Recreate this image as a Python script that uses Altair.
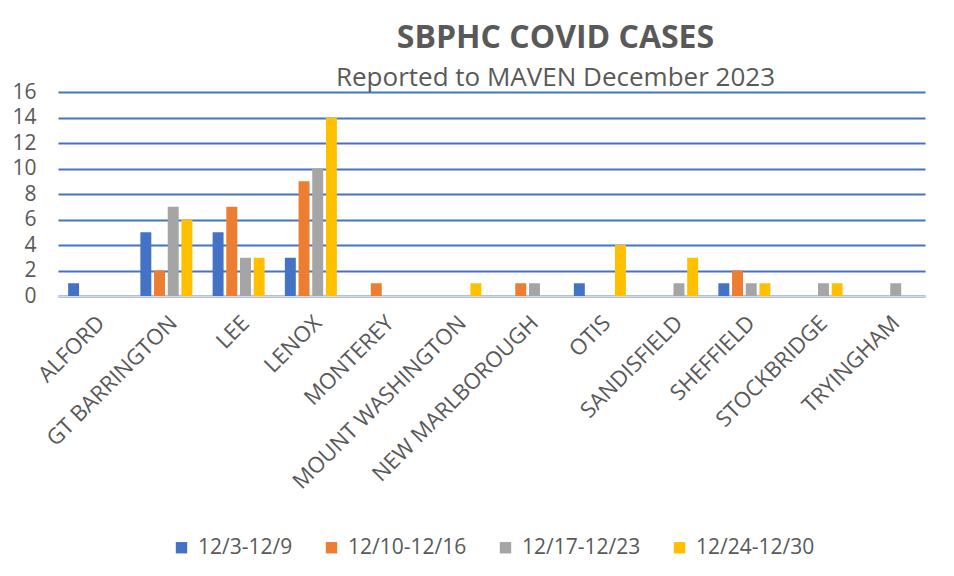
import altair as alt
import pandas as pd

towns = ["ALFORD", "GT BARRINGTON", "LEE", "LENOX", "MONTEREY", "MOUNT WASHINGTON",
         "NEW MARLBOROUGH", "OTIS", "SANDISFIELD", "SHEFFIELD", "STOCKBRIDGE", "TRYINGHAM"]
weeks = ["12/3-12/9", "12/10-12/16", "12/17-12/23", "12/24-12/30"]
w1 = [1, 5, 5, 3, 0, 0, 0, 1, 0, 1, 0, 0]
w2 = [0, 2, 7, 9, 1, 0, 1, 0, 0, 2, 0, 0]
w3 = [0, 7, 3, 10, 0, 0, 1, 0, 1, 1, 1, 1]
w4 = [0, 6, 3, 14, 0, 1, 0, 4, 3, 1, 1, 0]
colors = ["#4472C4", "#ED7D31", "#A5A5A5", "#FFC000"]

rows = []
for wk, vals in zip(weeks, [w1, w2, w3, w4]):
    for t, v in zip(towns, vals):
        rows.append({"town": t, "week": wk, "cases": v})
df = pd.DataFrame(rows)

FONT = "Open Sans"
TXT = "#595959"

chart = alt.Chart(df).transform_filter("datum.cases > 0").mark_bar().encode(
    x=alt.X("town:N", sort=towns, title=None,
            scale=alt.Scale(domain=towns, paddingInner=0.28, paddingOuter=0.14),
            axis=alt.Axis(labelAngle=-45, labelFontSize=22, labelColor=TXT, labelFont=FONT,
                          ticks=False, domainColor="#D9D9D9", domainWidth=1.5,
                          labelPadding=16, labelLimit=400)),
    xOffset=alt.XOffset("week:N", sort=weeks, scale=alt.Scale(domain=weeks, paddingInner=0.2)),
    y=alt.Y("cases:Q", title=None,
            scale=alt.Scale(domain=[0, 16], nice=False),
            axis=alt.Axis(values=list(range(0, 17, 2)), labelFontSize=21, labelColor=TXT,
                          labelFont=FONT, ticks=False, domain=False, labelPadding=22,
                          gridColor="#4472C4", gridWidth=1.8, gridOpacity=1)),
    color=alt.Color("week:N", sort=weeks, scale=alt.Scale(domain=weeks, range=colors),
                    legend=alt.Legend(orient="none", legendX=113, legendY=445, direction="horizontal",
                                      title=None, symbolType="square", symbolSize=130,
                                      symbolStrokeWidth=0, labelFontSize=21, labelFont=FONT,
                                      labelColor=TXT, columnPadding=28, labelOffset=6)),
).properties(
    width=867, height=204,
    title=alt.TitleParams("SBPHC COVID CASES", subtitle="Reported to MAVEN December 2023",
                          font=FONT, fontSize=32, fontWeight="bold", color=TXT,
                          subtitleFont=FONT, subtitleFontSize=26, subtitleColor=TXT,
                          subtitlePadding=10, offset=-11, dx=64, anchor="middle"),
    autosize=alt.AutoSizeParams(type="none"),
    padding={"left": 50, "top": 84, "right": 20, "bottom": 265},
).configure_view(stroke=None).configure_axis(grid=True).configure_axisX(grid=False)

chart.save("out.html", embed_options={"renderer": "svg", "actions": False})
